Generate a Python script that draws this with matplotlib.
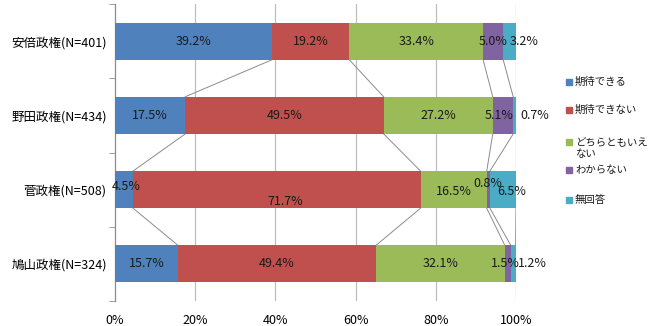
import matplotlib
matplotlib.use("Agg")
import matplotlib.pyplot as plt
from matplotlib.patches import Rectangle
import numpy as np

plt.rcParams['font.family'] = ['Noto Sans CJK JP', 'DejaVu Sans']

categories = ["安倍政権(N=401)", "野田政権(N=434)", "菅政権(N=508)", "鳩山政権(N=324)"]
series_names = ["期待できる", "期待できない", "どちらともいえ\nない", "わからない", "無回答"]
kitai = [39.2, 17.5, 4.5, 15.7]
kitai_nai = [19.2, 49.5, 71.7, 49.4]
dochira = [33.4, 27.2, 16.5, 32.1]
wakaranai = [5.0, 5.1, 0.8, 1.5]
mukaitou = [3.2, 0.7, 6.5, 1.2]
xticks = [0, 20, 40, 60, 80, 100]

colors = ["#4F81BD", "#C0504D", "#9BBB59", "#8064A2", "#4BACC6"]
# label offsets (dx in %, dy in category units) per [row][series]
label_offsets = {
    (0, 4): (3.7, 0.0),
    (1, 3): (-1.0, 0.0), (1, 4): (5.0, 0.0),
    (2, 0): (0.5, -0.04), (2, 1): (2.2, 0.16), (2, 2): (0.0, 0.03),
    (2, 3): (-0.2, -0.08), (2, 4): (2.1, 0.03),
    (3, 3): (-0.5, 0.0), (3, 4): (4.7, 0.0),
}

W, H = 650, 326
fig = plt.figure(figsize=(W / 100, H / 100), dpi=100)
ax = fig.add_axes([115 / W, 1 - 301 / H, (516 - 115) / W, (301 - 4) / H])

data = np.array([kitai, kitai_nai, dochira, wakaranai, mukaitou])
n = len(categories)
y = np.arange(n)
bh = 0.5
left = np.zeros(n)
cums = []
for s in range(data.shape[0]):
    ax.barh(y, data[s], left=left, height=bh, color=colors[s], edgecolor='none', zorder=3)
    for i in range(n):
        dx, dy = label_offsets.get((i, s), (0.0, 0.0))
        ax.text(left[i] + data[s][i] / 2 + dx, y[i] + dy, f"{data[s][i]:.1f}%",
                ha='center', va='center', fontsize=9, color='#1a1a1a', zorder=5)
    left = left + data[s]
    cums.append(left.copy())

# series lines
for c in cums:
    for i in range(n - 1):
        ax.plot([c[i], c[i + 1]], [y[i] + bh / 2, y[i + 1] - bh / 2],
                color='#8c8c8c', lw=0.7, zorder=2)

ax.set_xlim(0, 100)
ax.set_ylim(n - 0.5, -0.5)
ax.set_xticks(xticks)
ax.set_xticklabels([f"{t}%" for t in xticks], fontsize=9)
ax.set_yticks(y)
ax.set_yticklabels(categories, fontsize=9)
ax.set_yticks(np.arange(n + 1) - 0.5, minor=True)
ax.tick_params(axis='y', which='major', length=0, pad=6)
ax.tick_params(axis='y', which='minor', length=4, color='#8c8c8c', direction='out')
ax.tick_params(axis='x', length=0, pad=9)
for t in xticks[1:]:
    ax.axvline(t, color='#bfbfbf', lw=0.9, zorder=1)
for sp in ['top', 'right', 'bottom']:
    ax.spines[sp].set_visible(False)
ax.spines['left'].set_color('#8c8c8c')
ax.spines['left'].set_linewidth(0.9)

# legend
leg_y = [82, 110, 148.5, 170, 200]
sq_y = [82, 110, 142, 170, 200]
for s, name in enumerate(series_names):
    fig.patches.append(Rectangle((566 / W, 1 - (sq_y[s] + 3) / H), 6 / W, 6 / H,
                                 transform=fig.transFigure, color=colors[s]))
    fig.text(575 / W, 1 - leg_y[s] / H, name, fontsize=7.5, ha='left',
             va='center', color='#1a1a1a', linespacing=1.2)
fig.savefig("out.png", dpi=100)
